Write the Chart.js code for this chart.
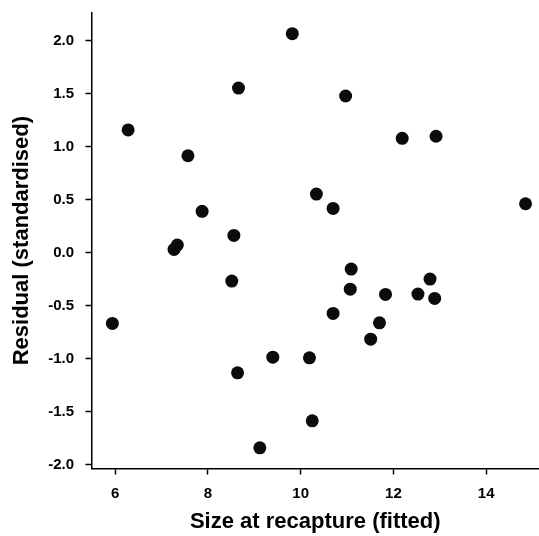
<!DOCTYPE html>
<html>
<head>
<meta charset="utf-8">
<script src="https://cdn.jsdelivr.net/npm/chart.js@4/dist/chart.umd.min.js"></script>
<style>
html,body{margin:0;padding:0;background:#fff;}
canvas{display:block;}
</style>
</head>
<body>
<canvas id="c" width="539" height="536"></canvas>
<script>
const sizeFitted = [5.94, 6.28, 7.57, 7.875, 7.34, 7.27, 8.56, 8.66, 8.515, 8.64, 9.12, 9.40, 9.82, 10.19, 10.25, 10.97, 10.34, 10.70, 11.09, 11.07, 10.70, 11.83, 11.70, 11.51, 12.53, 12.79, 12.89, 12.19, 12.92, 14.85];
const residuals = [-0.667, 1.16, 0.916, 0.391, 0.073, 0.032, 0.164, 1.555, -0.267, -1.133, -1.841, -0.985, 2.068, -0.991, -1.586, 1.48, 0.554, 0.419, -0.154, -0.343, -0.572, -0.393, -0.661, -0.815, -0.39, -0.248, -0.431, 1.08, 1.10, 0.463];
const xTicks = [6, 8, 10, 12, 14];
const yTicks = [-2.0, -1.5, -1.0, -0.5, 0.0, 0.5, 1.0, 1.5, 2.0];
const xTitle = 'Size at recapture (fitted)';
const yTitle = 'Residual (standardised)';

const points = sizeFitted.map((x, i) => ({x: x, y: residuals[i]}));
const FONT = '"Liberation Sans", Arial, Helvetica, sans-serif';

function zeroPad(s) { s.paddingLeft = 0; s.paddingRight = 0; s.paddingTop = 0; s.paddingBottom = 0; }

new Chart(document.getElementById('c'), {
  type: 'scatter',
  data: {
    datasets: [{
      data: points,
      backgroundColor: '#0b0b0b',
      borderColor: '#0b0b0b',
      borderWidth: 0,
      pointRadius: 6.5,
      pointHoverRadius: 6.5
    }]
  },
  options: {
    responsive: false,
    animation: false,
    events: [],
    layout: {autoPadding: false, padding: {top: 12.7, right: 0, left: 0, bottom: 0}},
    plugins: {legend: {display: false}, tooltip: {enabled: false}},
    scales: {
      x: {
        type: 'linear',
        min: 5.49,
        max: 15.14,
        afterBuildTicks: s => { s.ticks = xTicks.map(v => ({value: v})); },
        afterFit: s => { s.height = 67.5; zeroPad(s); },
        border: {display: true, color: '#000', width: 1.5},
        grid: {display: true, drawOnChartArea: false, drawTicks: true, tickLength: 6, tickWidth: 1.5, tickColor: '#000'},
        ticks: {
          padding: 10.5,
          color: '#000',
          font: {family: FONT, size: 15, weight: 'bold'},
          callback: v => String(v)
        },
        title: {
          display: true,
          text: xTitle,
          color: '#000',
          font: {family: FONT, size: 22, weight: 'bold'},
          padding: {top: 0, bottom: 1}
        }
      },
      y: {
        type: 'linear',
        min: -2.036,
        max: 2.266,
        afterBuildTicks: s => { s.ticks = yTicks.map(v => ({value: v})); },
        afterFit: s => { s.width = 91.5; zeroPad(s); },
        border: {display: true, color: '#000', width: 1.5},
        grid: {display: true, drawOnChartArea: false, drawTicks: true, tickLength: 6, tickWidth: 1.5, tickColor: '#000'},
        ticks: {
          padding: 11.5,
          color: '#000',
          font: {family: FONT, size: 15, weight: 'bold'},
          callback: v => Number(v).toFixed(1)
        },
        title: {
          display: true,
          text: yTitle,
          color: '#000',
          font: {family: FONT, size: 22, weight: 'bold'},
          padding: {top: 9, bottom: 0}
        }
      }
    }
  }
});
</script>
</body>
</html>
